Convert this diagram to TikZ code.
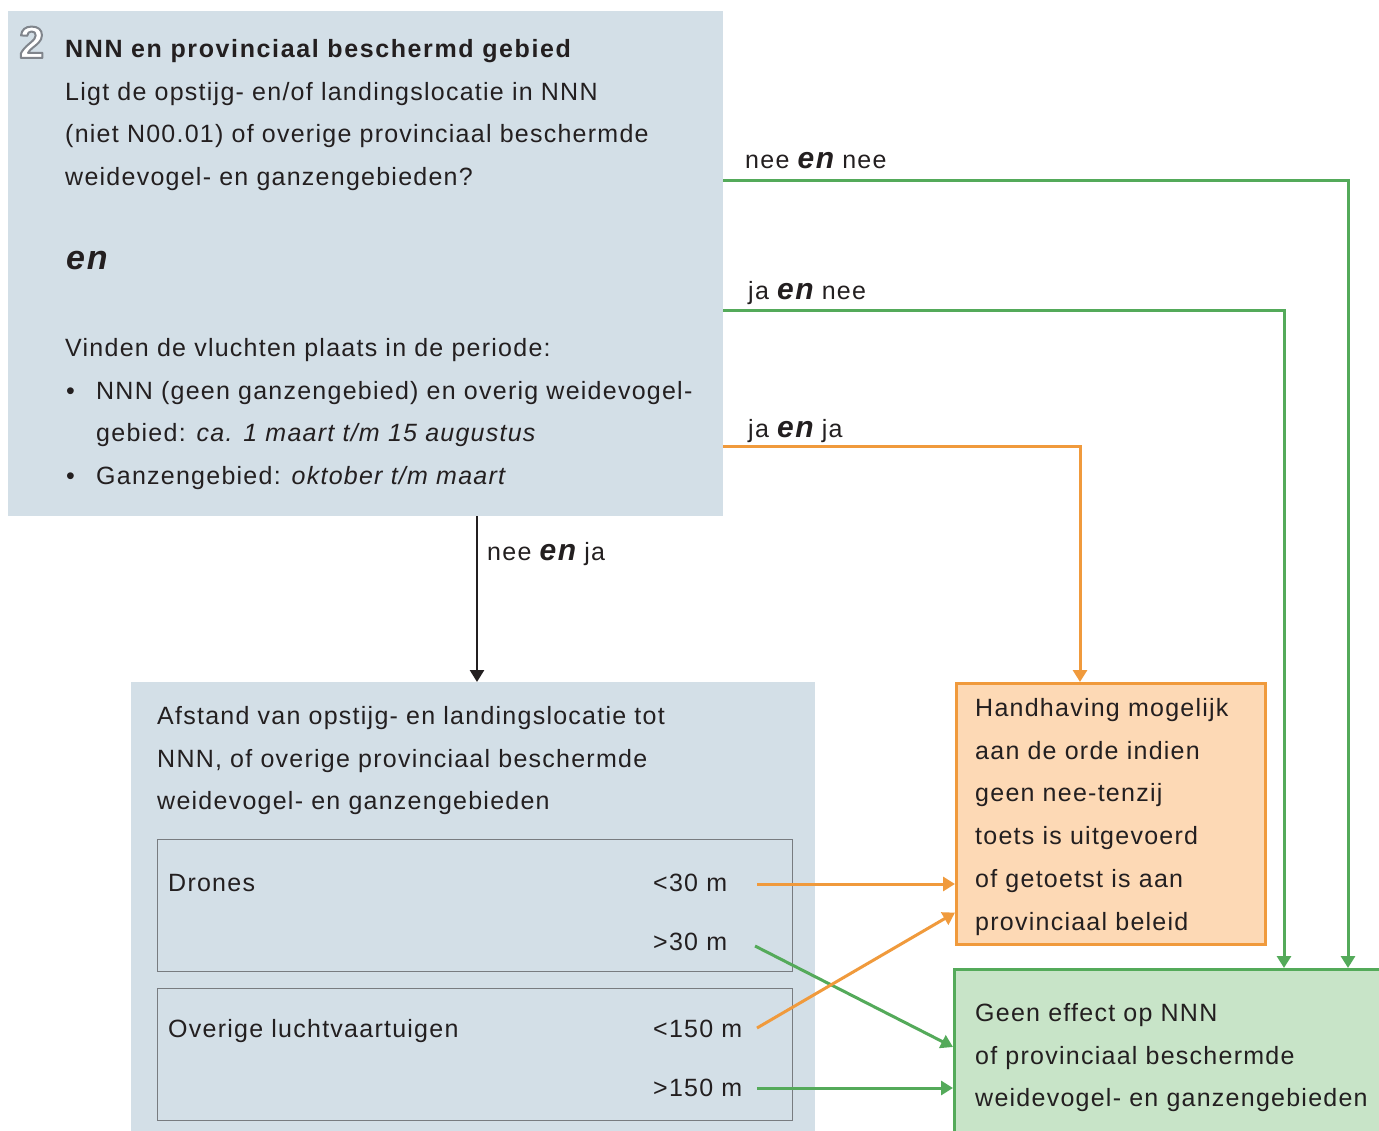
\documentclass[tikz,border=0pt]{standalone}
\usepackage{fontspec}
\setmainfont{Liberation Sans}[LetterSpace=5]
\usetikzlibrary{arrows.meta,calc}
\definecolor{ink}{RGB}{35,31,32}
\definecolor{bluefill}{RGB}{211,223,231}
\definecolor{orfill}{RGB}{253,217,181}
\definecolor{orline}{RGB}{240,154,60}
\definecolor{grfill}{RGB}{200,228,200}
\definecolor{grline}{RGB}{84,170,90}
\definecolor{innerline}{RGB}{120,124,128}
\newcommand{\fsmain}{\fontsize{25}{42.8}\selectfont}
\newcommand{\enbig}{{\fontsize{30}{30}\selectfont\bfseries\itshape en}}
\newcommand{\outlinedtwo}{\special{pdf:literal direct 0.5 0.52 0.55 RG 2 w 1 j 2 Tr}2\special{pdf:literal direct 0 Tr}}
\begin{document}
\begin{tikzpicture}[x=1pt,y=-1pt,
  box/.style={inner sep=0pt, anchor=north west},
  txt/.style={inner sep=0pt, anchor=north west, align=left, font=\fsmain, text=ink},
  lbl/.style={inner sep=0pt, anchor=base west, font=\fsmain, text=ink},
  tip/.style={-{Triangle[length=12pt,width=14pt]}},
  garrow/.style={tip, draw=grline, line width=3pt},
  oarrow/.style={tip, draw=orline, line width=3pt},
  karrow/.style={tip, draw=ink, line width=2.6pt}
]
\useasboundingbox (0,0) rectangle (1379,1131);
\fill[white] (0,0) rectangle (1379,1131);

% boxes
\node[box, fill=bluefill, minimum width=715pt, minimum height=505pt] (q1) at (8,11) {};
\node[box, fill=bluefill, minimum width=684pt, minimum height=460pt] (q2) at (131,682) {};
\node[box, draw=innerline, line width=1.3pt, minimum width=635pt, minimum height=132pt] (drn) at (157,839) {};
\node[box, draw=innerline, line width=1.3pt, minimum width=635pt, minimum height=132pt] (ovr) at (157,988) {};
\node[box, fill=orfill, draw=orline, line width=2.6pt, minimum width=309pt, minimum height=261pt] (hand) at (955,682) {};
\node[box, fill=grfill, draw=grline, line width=2.6pt, minimum width=450pt, minimum height=175pt] (geen) at (953,968) {};

% number 2 (outlined)
\node[inner sep=0pt, anchor=base west, text=white, font={\fontsize{45}{45}\selectfont\bfseries\addfontfeature{LetterSpace=0}}] (num) at (19,58) {\outlinedtwo};

% top box text
\node[txt] (t1) at (65,39) {\textbf{\addfontfeature{LetterSpace=6.5}NNN en provinciaal beschermd gebied}\\
Ligt de opstijg- en/of landingslocatie in NNN\\
(niet N00.01) of overige provinciaal beschermde\\
weidevogel- en ganzengebieden?};
\node[inner sep=0pt, anchor=base west, font=\fontsize{34}{34}\selectfont\bfseries\itshape, text=ink] (en) at (66,270) {en};
\node[txt] (t2) at (65,338) {Vinden de vluchten plaats in de periode:\\
\makebox[31pt][l]{\hspace{1pt}\textbullet}NNN (geen ganzengebied) en overig weidevogel-\\
\hspace*{31pt}gebied: \textit{ca. 1 maart t/m 15 augustus}\\
\makebox[31pt][l]{\hspace{1pt}\textbullet}Ganzengebied: \textit{oktober t/m maart}};

% lower box text
\node[txt] (t3) at (157,706) {Afstand van opstijg- en landingslocatie tot\\
NNN, of overige provinciaal beschermde\\
weidevogel- en ganzengebieden};
\node[lbl] (drones) at (168,891) {Drones};
\node[lbl] (lt30) at (653,891) {<30 m};
\node[lbl] (gt30) at (653,950) {>30 m};
\node[lbl] (overig) at (168,1037) {Overige luchtvaartuigen};
\node[lbl] (lt150) at (653,1037) {<150 m};
\node[lbl] (gt150) at (653,1096) {>150 m};

% result box texts
\node[txt] (t4) at (975,698) {Handhaving mogelijk\\
aan de orde indien\\
geen nee-tenzij\\
toets is uitgevoerd\\
of getoetst is aan\\
provinciaal beleid};
\node[txt] (t5) at (975,1003) {Geen effect op NNN\\
of provinciaal beschermde\\
weidevogel- en ganzengebieden};

% branch labels
\node[lbl] (lnn) at (745,169) {nee \enbig{} nee};
\node[lbl] (ljn) at (748,300) {ja \enbig{} nee};
\node[lbl] (ljj) at (748,437) {ja \enbig{} ja};
\node[lbl] (lnj) at (487,560) {nee \enbig{} ja};

% helper coordinates
\coordinate (y181) at (0,181);
\coordinate (y311) at (0,311);
\coordinate (y446) at (0,446);
\coordinate (x1348) at (1348,0);
\coordinate (x1284) at (1284,0);
\coordinate (x1080) at (1080,0);
\coordinate (x477) at (477,0);
\coordinate (s1) at (757,884);
\coordinate (s2) at (755,946);
\coordinate (s3) at (757,1028);
\coordinate (s4) at (757,1088);

% connectors
\draw[garrow] (q1.east |- y181) -| (x1348 |- geen.north);
\draw[garrow] (q1.east |- y311) -| (x1284 |- geen.north);
\draw[oarrow] (q1.east |- y446) -| (x1080 |- hand.north);
\draw[karrow] (x477 |- q1.south) -- (x477 |- q2.north);

\draw[oarrow] (s1) -- (hand.west |- s1);
\draw[garrow] (s2) -- ($(geen.north west)+(0,79)$);
\draw[oarrow] (s3) -- ($(hand.south west)+(0,-33)$);
\draw[garrow] (s4) -- (geen.west |- s4);
\end{tikzpicture}
\end{document}
